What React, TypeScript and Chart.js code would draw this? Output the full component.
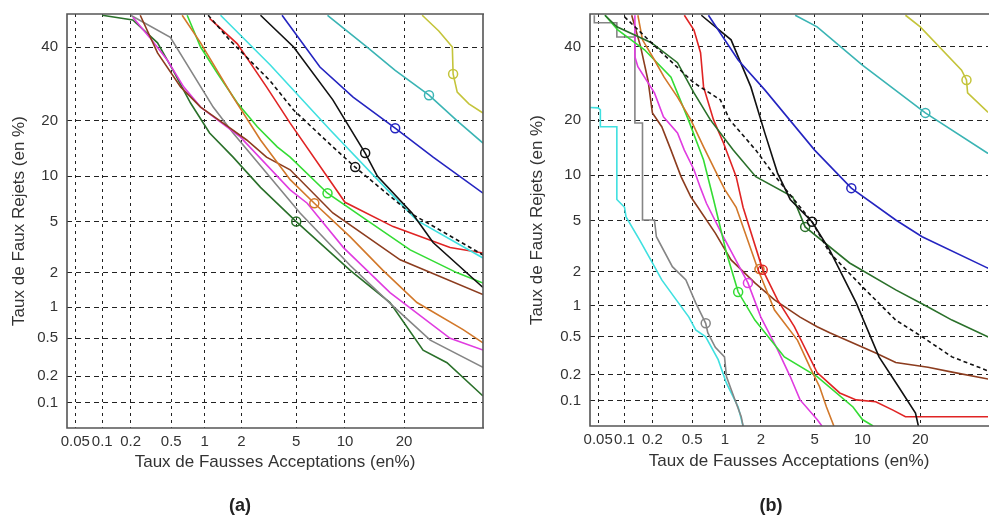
import React, { useEffect, useRef } from "react";
import { Chart, registerables } from "chart.js";
Chart.register(...registerables);

type Pt = [number, number]; // [false acceptance %, false rejection %]

// ---------- axis ticks (percent) ----------
const X_TICKS = [0.05, 0.1, 0.2, 0.5, 1, 2, 5, 10, 20];
const X_TICK_LABELS = ["0.05", "0.1", "0.2", "0.5", "1", "2", "5", "10", "20"];
const Y_TICKS = [0.1, 0.2, 0.5, 1, 2, 5, 10, 20, 40];
const Y_TICK_LABELS = ["0.1", "0.2", "0.5", "1", "2", "5", "10", "20", "40"];
const X_MIN = 0.04;
const X_MAX_A = 40;
const X_MAX_B = 37.2; // visible part of panel (b)
const Y_MIN = 0.05;
const Y_MAX = 50.4;

const X_TITLE = "Taux de Fausses Acceptations (en%)";
const Y_TITLE = "Taux de Faux Rejets (en %)";

// ---------- panel (a) ----------
const A_YELLOW: Pt[] = [[24, 50], [28, 45], [31.5, 40], [31.7, 32], [32.8, 27], [36, 24], [40, 21.8]];
const A_YELLOW_MARK: Pt[] = [[31.7, 32]];
const A_TEAL: Pt[] = [[7.9, 50], [13.2, 40], [18.2, 33], [25.6, 26.2], [32.8, 20], [40, 15.4]];
const A_TEAL_MARK: Pt[] = [[25.6, 26.2]];
const A_BLUE: Pt[] = [[4, 50], [7.1, 34], [11.1, 25.7], [18.2, 18.4], [26.6, 12.9], [40, 7.8]];
const A_BLUE_MARK: Pt[] = [[18.2, 18.4]];
const A_BLACK: Pt[] = [[2.8, 50], [4.8, 40], [8.5, 25], [12.9, 13.6], [14.9, 10], [21.7, 5.75], [26.6, 3.5], [40, 1.5]];
const A_BLACK_MARK: Pt[] = [[12.9, 13.6]];
const A_BLACK_DASH: Pt[] = [[1.07, 50], [1.63, 42], [3.3, 30], [4.8, 22.5], [8.5, 14.7], [11.4, 11.3], [21.3, 5.75], [40, 2.8]];
const A_BLACK_DASH_MARK: Pt[] = [[11.4, 11.3]];
const A_CYAN: Pt[] = [[1.36, 50], [3.3, 34.6], [8.2, 18], [16.7, 8.2], [22.8, 5.1], [40, 2.65]];
const A_RED: Pt[] = [[1.1, 49], [1.86, 41], [3.1, 28.4], [4.55, 19.5], [10, 6.8], [17.8, 4.6], [30.9, 3.2], [40, 2.9]];
const A_ORANGE: Pt[] = [[0.63, 50], [0.92, 41.3], [1.72, 25.7], [2.8, 16], [4.55, 9.5], [6.55, 6.7], [10.7, 3.86], [15.9, 2.1], [22.8, 1.1], [34.4, 0.61], [40, 0.45]];
const A_ORANGE_MARK: Pt[] = [[6.55, 6.7]];
const A_GREEN: Pt[] = [[0.7, 50], [0.92, 40], [1.28, 32.2], [1.86, 24.2], [2.65, 18.7], [3.7, 14.7], [4.55, 12.9], [7.9, 7.8], [13.2, 5.1], [21.3, 3.07], [32.8, 2], [40, 1.64]];
const A_GREEN_MARK: Pt[] = [[7.9, 7.8]];
const A_DKGREEN: Pt[] = [[0.1, 50], [0.21, 48.5], [0.37, 41.3], [0.52, 33], [0.75, 24.2], [1.1, 17.4], [1.72, 12.9], [2.8, 8.5], [5, 5], [10.7, 2.1], [17.2, 1.1], [24.2, 0.38], [30.1, 0.28], [40, 0.12]];
const A_DKGREEN_MARK: Pt[] = [[5, 5]];
const A_MAGENTA: Pt[] = [[0.21, 49.4], [0.31, 43], [0.46, 36], [0.65, 28.4], [0.92, 23.2], [1.96, 16.6], [4.55, 8.2], [5.9, 6.7], [9.8, 3.2], [17.2, 1.35], [30.9, 0.5], [40, 0.38]];
const A_GRAY: Pt[] = [[0.2, 50], [0.49, 43], [1.18, 23.2], [1.72, 17.4], [5.3, 5.75], [10.7, 2.3], [18, 1], [25.9, 0.48], [40, 0.25]];
const A_BROWN: Pt[] = [[0.25, 50], [0.37, 38.2], [0.61, 28.4], [0.92, 23.2], [1.43, 19.5], [2.2, 16], [3.1, 12.9], [4.55, 10.9], [8.5, 5.75], [19.2, 2.56], [40, 1.3]];

// ---------- panel (b) ----------
const B_YELLOW: Pt[] = [[17, 50], [20, 46.3], [29.9, 33], [31.2, 30.2], [31.5, 26.7], [37, 22], [40, 20.5]];
const B_YELLOW_MARK: Pt[] = [[31.2, 30.2]];
const B_TEAL: Pt[] = [[3.65, 50], [5.2, 46.3], [10, 34.5], [21.1, 21.7], [37, 13.5], [40, 12.8]];
const B_TEAL_MARK: Pt[] = [[21.1, 21.7]];
const B_BLUE: Pt[] = [[0.71, 50], [1.3, 36], [2.15, 27.5], [5, 14], [8.6, 8.3], [15.2, 5.05], [20.4, 3.8], [37, 2.15], [40, 2.0]];
const B_BLUE_MARK: Pt[] = [[8.6, 8.3]];
const B_BLACK: Pt[] = [[0.61, 50], [1.13, 42.2], [1.66, 28.3], [2.15, 17.3], [2.7, 10.3], [3.36, 7], [4.8, 4.9], [6.3, 3], [9.2, 1.06], [12.4, 0.31], [15.7, 0.146], [19, 0.072], [19.6, 0.05]];
const B_BLACK_MARK: Pt[] = [[4.8, 4.9]];
const B_BLACK_DASH: Pt[] = [[0.1, 49.5], [0.25, 38.2], [0.52, 29.4], [0.91, 24.9], [1.1, 20.1], [1.82, 14], [2.6, 9.8], [4.8, 4.9], [6.3, 2.85], [10, 1.48], [15.2, 0.73], [20.4, 0.5], [27.4, 0.31], [40, 0.2]];
const B_DKGREEN: Pt[] = [[0.06, 50], [0.082, 46.3], [0.195, 41.3], [0.36, 35.2], [0.52, 26.7], [0.74, 20.1], [1.18, 14], [1.82, 9.8], [3.5, 7.3], [4.3, 4.5], [8.4, 2.36], [15.2, 1.39], [21.7, 0.97], [27.4, 0.73], [40, 0.45]];
const B_DKGREEN_MARK: Pt[] = [[4.3, 4.5]];
const B_RED: Pt[] = [[0.42, 50], [0.52, 45.3], [0.6, 38.2], [0.64, 28.3], [0.79, 20.1], [0.97, 15.3], [1.25, 9.8], [1.43, 6.2], [2.07, 2.07], [2.7, 1.13], [3.6, 0.63], [5.2, 0.21], [7.3, 0.124], [9.2, 0.103], [11.9, 0.098], [14.7, 0.078], [17, 0.065], [40, 0.065]];
const B_RED_MARK: Pt[] = [[2.07, 2.07]];
const B_ORANGE: Pt[] = [[0.14, 50], [0.157, 42.2], [0.21, 36], [0.264, 31], [0.36, 25.6], [0.485, 20.1], [0.64, 14.6], [0.84, 10.3], [1, 8.1], [1.25, 6.2], [1.9, 2.07], [2.56, 0.91], [3.8, 0.46], [4.65, 0.24], [5.4, 0.146], [6, 0.085], [6.7, 0.05]];
const B_ORANGE_MARK: Pt[] = [[1.95, 2.1]];
const B_GREEN: Pt[] = [[0.06, 50], [0.084, 45.3], [0.165, 39.1], [0.31, 31], [0.46, 20.1], [0.64, 12.3], [0.79, 7], [1.03, 2.85], [1.3, 1.33], [1.79, 0.73], [3.04, 0.31], [5.2, 0.19], [8.8, 0.085], [10, 0.06], [11.5, 0.05]];
const B_GREEN_MARK: Pt[] = [[1.3, 1.33]];
const B_MAGENTA: Pt[] = [[0.13, 50], [0.13, 37], [0.14, 34], [0.21, 26.7], [0.26, 20.8], [0.36, 17.3], [0.42, 14], [0.52, 10.8], [0.6, 8.3], [0.68, 6.6], [0.93, 4.05], [1.57, 1.6], [2, 0.78], [2.7, 0.37], [3.36, 0.19], [3.96, 0.103], [5.2, 0.06], [5.6, 0.05]];
const B_MAGENTA_MARK: Pt[] = [[1.57, 1.6]];
const B_BROWN: Pt[] = [[0.12, 50], [0.15, 40], [0.18, 30], [0.2, 21.7], [0.25, 18.6], [0.31, 14], [0.39, 9.8], [0.485, 7.3], [0.82, 4.05], [1.13, 2.5], [1.79, 1.6], [2.56, 1.13], [3.96, 0.78], [5.2, 0.63], [6.3, 0.55], [11.9, 0.34], [15.2, 0.27], [21.7, 0.24], [28.1, 0.21], [40, 0.17]];
const B_GRAY: Pt[] = [[0.045, 50], [0.045, 47.6], [0.082, 47.6], [0.082, 43.1], [0.13, 43.1], [0.13, 19.4], [0.157, 19.4], [0.157, 5.05], [0.21, 5.05], [0.22, 3.8], [0.32, 2.2], [0.435, 1.7], [0.54, 1.06], [0.67, 0.68], [0.7, 0.55], [0.82, 0.39], [0.99, 0.31], [1.03, 0.19], [1.2, 0.11], [1.38, 0.065], [1.43, 0.05]];
const B_GRAY_MARK: Pt[] = [[0.67, 0.68]];
const B_CYAN: Pt[] = [[0.04, 23], [0.05, 22.9], [0.053, 22.4], [0.053, 18.6], [0.082, 18.6], [0.082, 7], [0.1, 6.2], [0.104, 5.3], [0.146, 3.6], [0.2, 2.36], [0.25, 1.7], [0.35, 1.13], [0.465, 0.78], [0.54, 0.585], [0.67, 0.5], [0.87, 0.29], [1.03, 0.16], [1.3, 0.085], [1.43, 0.05]];

// ---------- styles ----------
const COL = {
  yellow: "#c4c43a",
  teal: "#3ab4b4",
  blue: "#2424c0",
  black: "#111111",
  cyan: "#3fe0e0",
  red: "#e02424",
  orange: "#d2782a",
  green: "#34dc34",
  dkgreen: "#2a702a",
  magenta: "#e03ce0",
  gray: "#858585",
  brown: "#8c3c1e",
};
const FONT = "'Liberation Sans', Arial, Helvetica, sans-serif";

interface Series { data: Pt[]; color: string; dash?: number[]; mark?: Pt[] }

const SERIES_A: Series[] = [
  { data: A_YELLOW, color: COL.yellow, mark: A_YELLOW_MARK },
  { data: A_TEAL, color: COL.teal, mark: A_TEAL_MARK },
  { data: A_BLUE, color: COL.blue, mark: A_BLUE_MARK },
  { data: A_BLACK, color: COL.black, mark: A_BLACK_MARK },
  { data: A_BLACK_DASH, color: COL.black, dash: [4, 3], mark: A_BLACK_DASH_MARK },
  { data: A_CYAN, color: COL.cyan },
  { data: A_RED, color: COL.red },
  { data: A_ORANGE, color: COL.orange, mark: A_ORANGE_MARK },
  { data: A_GREEN, color: COL.green, mark: A_GREEN_MARK },
  { data: A_BROWN, color: COL.brown },
  { data: A_MAGENTA, color: COL.magenta },
  { data: A_GRAY, color: COL.gray },
  { data: A_DKGREEN, color: COL.dkgreen, mark: A_DKGREEN_MARK },
];

const SERIES_B: Series[] = [
  { data: B_YELLOW, color: COL.yellow, mark: B_YELLOW_MARK },
  { data: B_TEAL, color: COL.teal, mark: B_TEAL_MARK },
  { data: B_BLUE, color: COL.blue, mark: B_BLUE_MARK },
  { data: B_BLACK, color: COL.black, mark: B_BLACK_MARK },
  { data: B_BLACK_DASH, color: COL.black, dash: [4, 3] },
  { data: B_DKGREEN, color: COL.dkgreen, mark: B_DKGREEN_MARK },
  { data: B_RED, color: COL.red, mark: B_RED_MARK },
  { data: B_ORANGE, color: COL.orange, mark: B_ORANGE_MARK },
  { data: B_GREEN, color: COL.green, mark: B_GREEN_MARK },
  { data: B_MAGENTA, color: COL.magenta, mark: B_MAGENTA_MARK },
  { data: B_BROWN, color: COL.brown },
  { data: B_GRAY, color: COL.gray, mark: B_GRAY_MARK },
  { data: B_CYAN, color: COL.cyan },
];

// inverse normal CDF (Acklam) -> normal deviate scale of a DET plot
function probit(p: number): number {
  const a = [-39.69683028665376, 220.9460984245205, -275.9285104469687, 138.357751867269, -30.66479806614716, 2.506628277459239];
  const b = [-54.47609879822406, 161.5858368580409, -155.6989798598866, 66.80131188771972, -13.28068155288572];
  const c = [-0.007784894002430293, -0.3223964580411365, -2.400758277161838, -2.549732539343734, 4.374664141464968, 2.938163982698783];
  const d = [0.007784695709041462, 0.3224671290700398, 2.445134137142996, 3.754408661907416];
  const pl = 0.02425;
  if (p < pl) {
    const q = Math.sqrt(-2 * Math.log(p));
    return (((((c[0] * q + c[1]) * q + c[2]) * q + c[3]) * q + c[4]) * q + c[5]) / ((((d[0] * q + d[1]) * q + d[2]) * q + d[3]) * q + 1);
  }
  if (p <= 1 - pl) {
    const q = p - 0.5;
    const r = q * q;
    return ((((((a[0] * r + a[1]) * r + a[2]) * r + a[3]) * r + a[4]) * r + a[5]) * q) / (((((b[0] * r + b[1]) * r + b[2]) * r + b[3]) * r + b[4]) * r + 1);
  }
  const q = Math.sqrt(-2 * Math.log(1 - p));
  return -(((((c[0] * q + c[1]) * q + c[2]) * q + c[3]) * q + c[4]) * q + c[5]) / ((((d[0] * q + d[1]) * q + d[2]) * q + d[3]) * q + 1);
}
const pct = (v: number) => probit(v / 100);
const toXY = (p: Pt) => ({ x: pct(p[0]), y: pct(p[1]) });

interface PanelProps {
  series: Series[];
  xMax: number;
  yAxisW: number;
  xAxisH: number;
  padRight: number;
  yTitlePad: number;
  xTitlePad: number;
  frameRight: boolean;
  left: number;
}

function DetPanel(props: PanelProps) {
  const ref = useRef<HTMLCanvasElement | null>(null);
  useEffect(() => {
    if (!ref.current) return;
    const datasets: any[] = [];
    props.series.forEach((s) => {
      datasets.push({
        data: s.data.map(toXY),
        showLine: true,
        borderColor: s.color,
        borderWidth: 1.6,
        borderDash: s.dash || [],
        pointRadius: 0,
        fill: false,
        tension: 0,
      });
      if (s.mark) {
        datasets.push({
          data: s.mark.map(toXY),
          showLine: false,
          pointStyle: "circle",
          pointRadius: 4.5,
          pointBorderWidth: 1.5,
          pointBorderColor: s.color,
          pointBackgroundColor: "rgba(0,0,0,0)",
        });
      }
    });
    const frame = {
      id: "frame",
      afterDatasetsDraw(chart: any) {
        const { ctx, chartArea } = chart;
        const { left, top, right, bottom } = chartArea;
        ctx.save();
        ctx.strokeStyle = "#555";
        ctx.lineWidth = 1.6;
        ctx.beginPath();
        ctx.moveTo(right + 1, top);
        ctx.lineTo(left, top);
        ctx.lineTo(left, bottom);
        ctx.lineTo(right + 1, bottom);
        if (props.frameRight) {
          ctx.lineTo(right, bottom);
          ctx.lineTo(right, top);
        }
        ctx.stroke();
        ctx.restore();
      },
    };
    const tickFont = { family: FONT, size: 15 };
    const titleFont = { family: FONT, size: 17 };
    const chart = new Chart(ref.current, {
      type: "scatter",
      data: { datasets },
      plugins: [frame],
      options: {
        animation: false,
        responsive: false,
        events: [],
        layout: { padding: { left: 0, top: 14, right: props.padRight, bottom: 0 } },
        plugins: { legend: { display: false }, tooltip: { enabled: false } },
        scales: {
          x: {
            type: "linear",
            bounds: "data",
            min: pct(X_MIN),
            max: pct(props.xMax),
            afterBuildTicks: (s: any) => {
              s.ticks = X_TICKS.map((v) => ({ value: pct(v) }));
            },
            afterFit: (s: any) => {
              s.height = props.xAxisH;
              s.paddingLeft = 0;
              s.paddingRight = 0;
            },
            ticks: {
              autoSkip: false,
              maxRotation: 0,
              padding: 5,
              color: "#333",
              font: tickFont,
              callback: (_v: any, i: number) => X_TICK_LABELS[i],
            },
            grid: { color: "#222", lineWidth: 1, drawTicks: false },
            border: { display: false, dash: [3, 4] },
            title: {
              display: true,
              text: X_TITLE,
              color: "#333",
              font: titleFont,
              padding: { top: 0, bottom: props.xTitlePad },
            },
          },
          y: {
            type: "linear",
            bounds: "data",
            min: pct(Y_MIN),
            max: pct(Y_MAX),
            afterBuildTicks: (s: any) => {
              s.ticks = Y_TICKS.map((v) => ({ value: pct(v) }));
            },
            afterFit: (s: any) => {
              s.width = props.yAxisW;
              s.paddingTop = 0;
              s.paddingBottom = 0;
            },
            ticks: {
              autoSkip: false,
              padding: 9,
              color: "#333",
              font: tickFont,
              callback: (_v: any, i: number) => Y_TICK_LABELS[i],
            },
            grid: { color: "#222", lineWidth: 1, drawTicks: false },
            border: { display: false, dash: [5, 4] },
            title: {
              display: true,
              text: Y_TITLE,
              color: "#333",
              font: titleFont,
              padding: { top: props.yTitlePad, bottom: 0 },
            },
          },
        },
      } as any,
    });
    return () => chart.destroy();
  }, []);
  return (
    <canvas
      ref={ref}
      width={497}
      height={516}
      style={{ position: "absolute", left: props.left, top: 0, width: 497, height: 516 }}
    />
  );
}

const captionStyle = (cx: number): React.CSSProperties => ({
  position: "absolute",
  left: cx - 50,
  width: 100,
  top: 494,
  textAlign: "center",
  fontFamily: FONT,
  fontWeight: "bold",
  fontSize: 18,
  lineHeight: "22px",
  color: "#222",
});

export default function App() {
  return (
    <div
      style={{
        position: "fixed",
        left: 0,
        top: 0,
        width: 994,
        height: 516,
        overflow: "hidden",
        background: "#fff",
      }}
    >
      <DetPanel series={SERIES_A} xMax={X_MAX_A} yAxisW={67} xAxisH={88} padRight={14} yTitlePad={9} xTitlePad={43} frameRight={true} left={0} />
      <DetPanel series={SERIES_B} xMax={X_MAX_B} yAxisW={93} xAxisH={90} padRight={0} yTitlePad={30} xTitlePad={44} frameRight={false} left={497} />
      <div style={captionStyle(240)}>(a)</div>
      <div style={captionStyle(771)}>(b)</div>
    </div>
  );
}
